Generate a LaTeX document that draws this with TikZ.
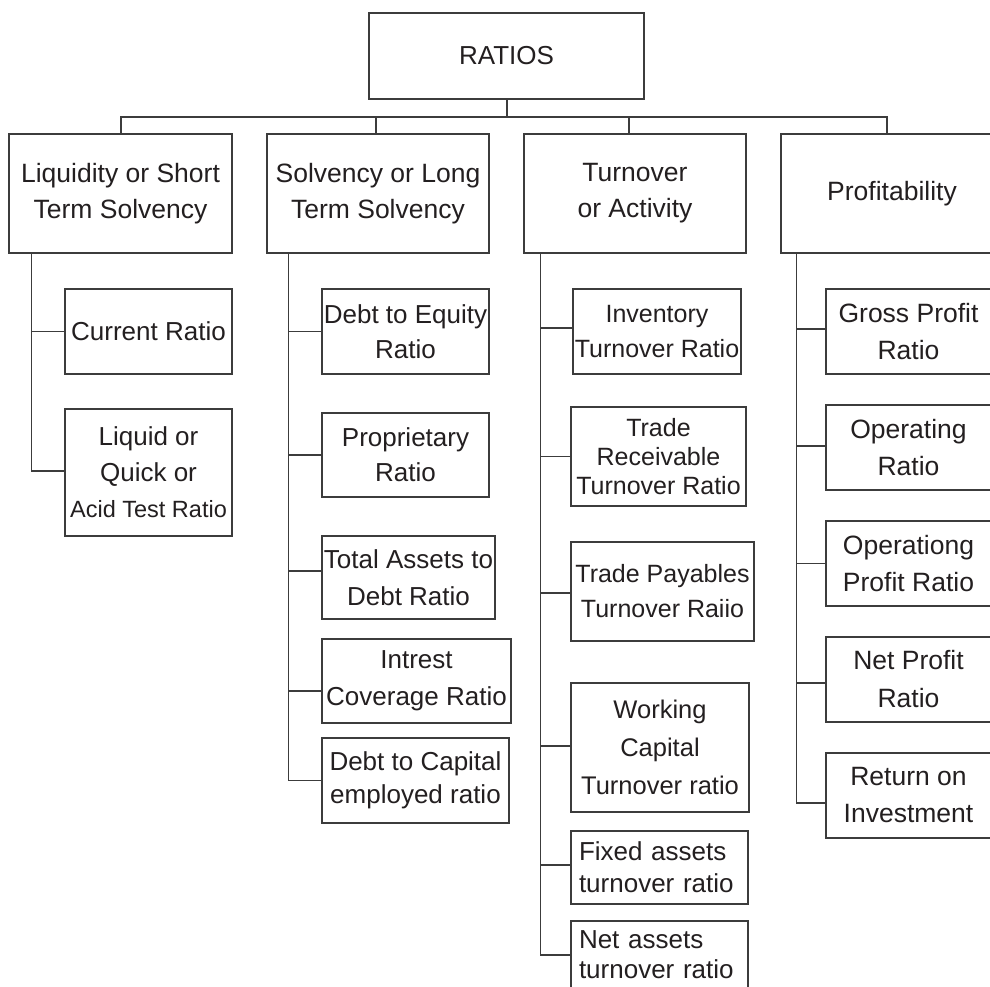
\documentclass[tikz,border=0pt]{standalone}
\usepackage{fontspec}
\setmainfont{Liberation Sans}
\definecolor{linec}{RGB}{60,60,60}
\definecolor{textc}{RGB}{35,31,32}
\tikzset{
  box/.style={draw=linec, line width=1.1pt, inner sep=0pt, align=center, text=textc,
    font=\fontsize{26}{35}\selectfont},
  conn/.style={draw=linec, line width=1.1pt},
}
\begin{document}
\begin{tikzpicture}[x=1pt,y=-1pt]
\useasboundingbox[fill=white] (0,0) rectangle (990,987);
% root
\node[box, minimum width=275pt, minimum height=86pt] (ratios) at (506.5,56) {RATIOS};
% level 1
\node[box, minimum width=223pt, minimum height=119pt, font=\fontsize{26.5}{36}\selectfont] (liq) at (120.5,193.5) {Liquidity or Short\\Term Solvency};
\node[box, minimum width=222pt, minimum height=119pt, font=\fontsize{26.5}{36}\selectfont] (sol) at (378,193.5) {Solvency or Long\\Term Solvency};
\node[box, minimum width=222pt, minimum height=119pt, font=\fontsize{26.5}{36}\selectfont] (turn) at (635,193.5) {Turnover\\or Activity};
\node[box, minimum width=222pt, minimum height=119pt, font=\fontsize{26.5}{36}\selectfont] (prof) at (892,193.5) {Profitability};
% liquidity children
\node[box, minimum width=167pt, minimum height=85pt] (cur) at (148.5,331.5) {Current Ratio};
\node[box, minimum width=167pt, minimum height=127pt, font=\fontsize{26}{36}\selectfont] (liqd) at (148.5,472.5) {Liquid or\\Quick or\\{\fontsize{23.5}{36}\selectfont Acid Test Ratio}};
% solvency children
\node[box, minimum width=167pt, minimum height=85pt] (de) at (405.5,331.5) {Debt to Equity\\Ratio};
\node[box, minimum width=167pt, minimum height=84pt] (prop) at (405.5,455) {Proprietary\\Ratio};
\node[box, minimum width=173pt, minimum height=83pt, font=\fontsize{26}{37}\selectfont] (ta) at (408.5,577.5) {Total Assets to\\Debt Ratio};
\node[box, minimum width=189pt, minimum height=84pt, font=\fontsize{26}{37}\selectfont] (int) at (416.5,681) {Intrest\\Coverage Ratio};
\node[box, minimum width=187pt, minimum height=85pt, font=\fontsize{26}{33}\selectfont] (dc) at (415.5,780.5) {Debt to Capital\\employed ratio};
% turnover children
\node[box, minimum width=168pt, minimum height=85pt, font=\fontsize{25}{35}\selectfont] (inv) at (657,331.5) {Inventory\\Turnover Ratio};
\node[box, minimum width=175pt, minimum height=99pt, font=\fontsize{25}{29}\selectfont] (tr) at (658.5,456.5) {Trade\\Receivable\\Turnover Ratio};
\node[box, minimum width=183pt, minimum height=99pt, font=\fontsize{25}{35}\selectfont] (tp) at (662.5,591.5) {Trade Payables\\Turnover Raiio};
\node[box, minimum width=178pt, minimum height=129pt, font=\fontsize{25.5}{38}\selectfont] (wc) at (660,747.5) {Working\\Capital\\Turnover ratio};
\node[box, minimum width=177pt, minimum height=73pt, text width=161pt, align=left, font=\fontsize{26}{32}\selectfont] (fa) at (659.5,867.5) {Fixed assets\\turnover ratio};
\node[box, minimum width=177pt, minimum height=68pt, text width=161pt, align=left, font=\fontsize{26}{30}\selectfont] (na) at (659.5,955) {Net assets\\turnover ratio};
% profitability children
\node[box, minimum width=165pt, minimum height=85pt, font=\fontsize{26.5}{37}\selectfont] (gp) at (908.5,331.5) {Gross Profit\\Ratio};
\node[box, minimum width=165pt, minimum height=85pt, font=\fontsize{26.5}{37}\selectfont] (op) at (908.5,447.5) {Operating\\Ratio};
\node[box, minimum width=165pt, minimum height=85pt, font=\fontsize{26.5}{37}\selectfont] (opr) at (908.5,563.5) {Operationg\\Profit Ratio};
\node[box, minimum width=165pt, minimum height=85pt, font=\fontsize{26.5}{38}\selectfont] (np) at (908.5,679.5) {Net Profit\\Ratio};
\node[box, minimum width=165pt, minimum height=85pt, font=\fontsize{26.5}{37}\selectfont] (roi) at (908.5,795.5) {Return on\\Investment};
% root to level 1
\coordinate (bus) at (507,117);
\draw[conn] ([xshift=0.5pt]ratios.south) -- (bus);
\draw[conn] (bus) -| ([xshift=0.5pt]liq.north);
\draw[conn] (bus) -| ([xshift=-2pt]sol.north);
\draw[conn] (bus) -| ([xshift=-6pt]turn.north);
\draw[conn] (bus) -| ([xshift=-5pt]prof.north);
% liquidity
\draw[conn] ([xshift=23pt]liq.south west) |- (cur.west);
\draw[conn] ([xshift=23pt]liq.south west) |- ([yshift=1.5pt]liqd.west);
% solvency
\draw[conn] ([xshift=22pt]sol.south west) |- (de.west);
\draw[conn] ([xshift=22pt]sol.south west) |- (prop.west);
\draw[conn] ([xshift=22pt]sol.south west) |- ([yshift=6.5pt]ta.west);
\draw[conn] ([xshift=22pt]sol.south west) |- ([yshift=-10pt]int.west);
\draw[conn] ([xshift=22pt]sol.south west) |- (dc.west);
% turnover
\draw[conn] ([xshift=17pt]turn.south west) |- ([yshift=3.5pt]inv.west);
\draw[conn] ([xshift=17pt]turn.south west) |- (tr.west);
\draw[conn] ([xshift=17pt]turn.south west) |- ([yshift=-1.5pt]tp.west);
\draw[conn] ([xshift=17pt]turn.south west) |- ([yshift=1.5pt]wc.west);
\draw[conn] ([xshift=17pt]turn.south west) |- ([yshift=2.5pt]fa.west);
\draw[conn] ([xshift=17pt]turn.south west) |- (na.west);
% profitability
\draw[conn] ([xshift=16pt]prof.south west) |- ([yshift=2.5pt]gp.west);
\draw[conn] ([xshift=16pt]prof.south west) |- ([yshift=1.5pt]op.west);
\draw[conn] ([xshift=16pt]prof.south west) |- (opr.west);
\draw[conn] ([xshift=16pt]prof.south west) |- ([yshift=-3.5pt]np.west);
\draw[conn] ([xshift=16pt]prof.south west) |- ([yshift=-7.5pt]roi.west);
\end{tikzpicture}
\end{document}
